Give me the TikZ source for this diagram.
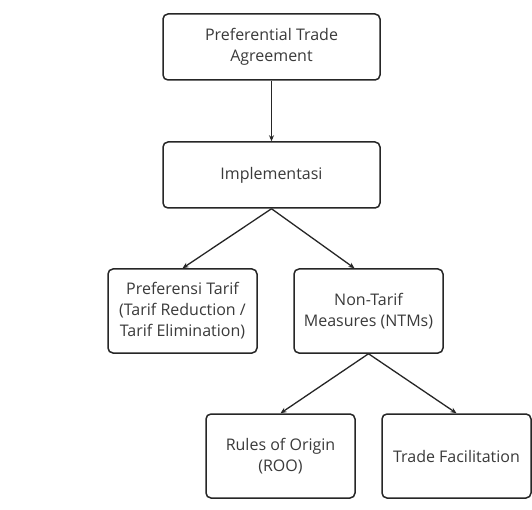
\documentclass[tikz,border=0pt]{standalone}
\usepackage{fontspec}
\setmainfont{Open Sans}
\usetikzlibrary{calc,arrows.meta}
\definecolor{edgecol}{HTML}{262626}
\definecolor{txtcol}{HTML}{3a3a3a}
\tikzset{
  box/.style={draw=edgecol, line width=1.5pt, rounded corners=5pt, align=center,
    font=\fontsize{16}{21}\selectfont, text=txtcol, inner sep=2pt},
  wide/.style={box, minimum width=217pt, minimum height=66pt},
  small/.style={box, minimum width=149pt, minimum height=84pt},
  conn/.style={draw=edgecol, line width=1.3pt, -{Stealth[length=6pt,width=5pt]}}
}
\begin{document}
\begin{tikzpicture}[x=1pt,y=-1pt]
\useasboundingbox[fill=white] (0,0) rectangle (532,510);
\node[wide] (pta) at (271.5,47) {Preferential Trade\\Agreement};
\node[wide] (impl) at (271.5,175) {Implementasi};
\node[small] (pref) at (182.5,311) {Preferensi Tarif\\(Tarif Reduction /\\Tarif Elimination)};
\node[small] (ntm) at (368.5,311) {Non-Tarif\\Measures (NTMs)};
\node[small] (roo) at (280.5,456) {Rules of Origin\\(ROO)};
\node[small] (tf) at (456.5,456) {Trade Facilitation};
\coordinate (ntmin) at ($(ntm.north)+(-14,0)$);
\draw[conn] (pta) -- (impl);
\draw[conn] (impl.south) -- (pref.north);
\draw[conn] (impl.south) -- (ntmin);
\draw[conn] (ntm.south) -- (roo.north);
\draw[conn] (ntm.south) -- (tf.north);
\end{tikzpicture}
\end{document}
